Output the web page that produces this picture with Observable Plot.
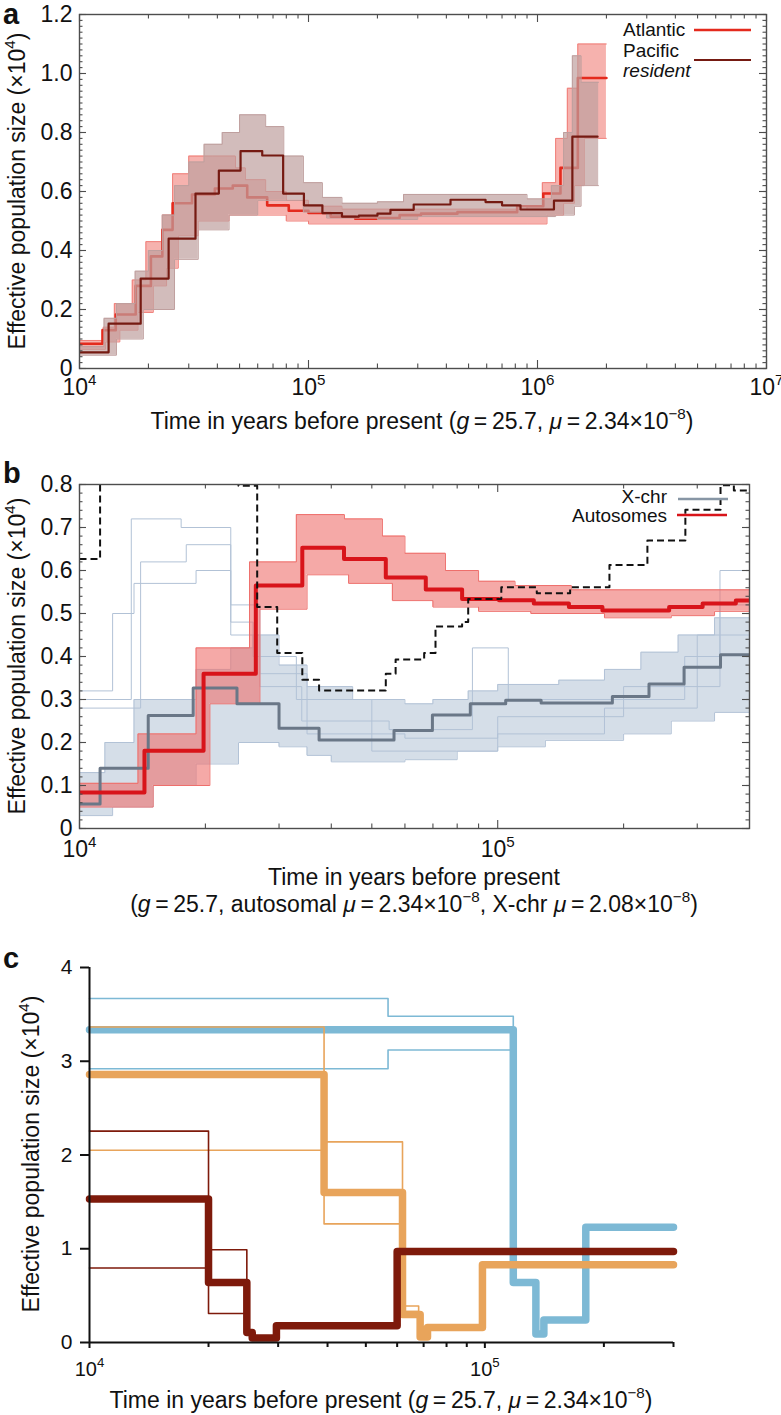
<!DOCTYPE html>
<html><head><meta charset="utf-8">
<script src="https://cdn.jsdelivr.net/npm/d3@7"></script>
<script src="https://cdn.jsdelivr.net/npm/@observablehq/plot@0.6"></script>
<style>
html,body{margin:0;padding:0;background:#fff;overflow:hidden;}
#wrap{width:781px;height:1415px;}
</style></head>
<body><div id="wrap"></div>
<script>
const FONT = '"Liberation Sans", Arial, Helvetica, sans-serif';

// ---------- Panel a: Atlantic vs Pacific resident (Ne x10^4) ----------
const A_X_TICKS = [1e4, 1e5, 1e6, 1e7];
const A_Y_TICKS = [0, 0.2, 0.4, 0.6, 0.8, 1.0, 1.2];

const A_PAC_T = [1.0e4, 1.34e4, 1.85e4, 2.45e4, 3.21e4, 4.06e4, 5.05e4, 6.28e4, 7.75e4, 9.55e4, 1.15e5, 1.40e5, 1.66e5, 2.0e5, 2.28e5, 2.88e5, 4.17e5, 5.93e5, 7.0e5, 8.43e5, 1.18e6, 1.42e6, 1.83e6];
const A_PAC_V = [0.055, 0.152, 0.305, 0.44, 0.593, 0.671, 0.737, 0.722, 0.593, 0.553, 0.527, 0.515, 0.518, 0.525, 0.538, 0.556, 0.572, 0.564, 0.553, 0.539, 0.569, 0.786, 0.786];
const A_ATL_T = [1.0e4, 1.26e4, 1.44e4, 1.76e4, 2.05e4, 2.3e4, 2.55e4, 3.1e4, 3.9e4, 4.67e4, 5.4e4, 6.6e4, 8.2e4, 1.0e5, 1.25e5, 1.6e5, 2.05e5, 2.5e5, 3.1e5, 4.47e5, 8.15e5, 1.06e6, 1.26e6, 1.5e6, 2.0e6];
const A_ATL_V = [0.084, 0.13, 0.183, 0.28, 0.38, 0.47, 0.56, 0.59, 0.61, 0.62, 0.58, 0.553, 0.535, 0.527, 0.515, 0.508, 0.51, 0.52, 0.525, 0.53, 0.55, 0.593, 0.68, 0.985, 0.985];

// bootstrap envelopes
const A_PAC_HI_T = [1.0e4, 1.28e4, 1.45e4, 1.75e4, 2.0e4, 2.3e4, 2.6e4, 3.0e4, 3.5e4, 4.2e4, 5.0e4, 6.5e4, 7.8e4, 9.5e4, 1.15e5, 1.4e5, 2.0e5, 2.6e5, 9.0e5, 1.15e6, 1.3e6, 1.42e6, 1.55e6, 1.85e6];
const A_PAC_HI_V = [0.075, 0.17, 0.22, 0.33, 0.40, 0.52, 0.62, 0.70, 0.76, 0.80, 0.86, 0.82, 0.72, 0.63, 0.58, 0.56, 0.565, 0.59, 0.575, 0.62, 0.80, 1.06, 0.97, 0.97];
const A_PAC_LO_T = [1.0e4, 1.45e4, 1.9e4, 2.6e4, 3.3e4, 4.5e4, 6.0e4, 9.5e4, 1.2e5, 2.0e5, 3.0e5, 1.2e6, 1.45e6, 1.55e6, 1.85e6];
const A_PAC_LO_V = [0.045, 0.10, 0.20, 0.37, 0.47, 0.52, 0.57, 0.53, 0.51, 0.505, 0.515, 0.52, 0.55, 0.62, 0.62];
const A_ATL_HI_T = [1.0e4, 1.27e4, 1.42e4, 1.7e4, 1.95e4, 2.3e4, 2.55e4, 3.0e4, 3.8e4, 4.8e4, 5.3e4, 6.5e4, 8.0e4, 1.0e5, 1.4e5, 9.0e5, 1.05e6, 1.2e6, 1.35e6, 1.5e6, 2.0e6];
const A_ATL_HI_V = [0.095, 0.14, 0.22, 0.30, 0.43, 0.52, 0.66, 0.72, 0.72, 0.68, 0.64, 0.60, 0.57, 0.55, 0.54, 0.55, 0.63, 0.78, 0.95, 1.10, 1.10];
const A_ATL_LO_T = [1.0e4, 1.3e4, 1.5e4, 1.8e4, 2.1e4, 2.4e4, 2.7e4, 3.3e4, 4.5e4, 6.0e4, 8.0e4, 1.0e5, 9.0e5, 1.1e6, 1.3e6, 1.45e6, 1.6e6, 2.0e6];
const A_ATL_LO_V = [0.065, 0.09, 0.13, 0.19, 0.28, 0.34, 0.45, 0.50, 0.52, 0.52, 0.50, 0.49, 0.49, 0.52, 0.56, 0.62, 0.78, 0.78];

// ---------- Panel b: X-chr vs autosomes ----------
const B_X_TICKS = [1e4, 1e5];
const B_Y_TICKS = [0, 0.1, 0.2, 0.3, 0.4, 0.5, 0.6, 0.7, 0.8];

const B_AUTO_T = [1.0e4, 1.43e4, 1.98e4, 2.64e4, 3.41e4, 4.29e4, 5.4e4, 6.73e4, 8.22e4, 1.007e5, 1.22e5, 1.48e5, 1.78e5, 2.57e5, 3.09e5, 3.71e5, 4.0e5];
const B_AUTO_V = [0.084, 0.181, 0.36, 0.565, 0.653, 0.627, 0.584, 0.556, 0.534, 0.531, 0.523, 0.515, 0.507, 0.515, 0.523, 0.53, 0.53];
const B_XCHR_T = [1.0e4, 1.12e4, 1.46e4, 1.87e4, 2.38e4, 3.0e4, 3.74e4, 5.65e4, 6.98e4, 8.6e4, 1.045e5, 1.27e5, 1.88e5, 2.3e5, 2.79e5, 3.41e5, 4.0e5];
const B_XCHR_V = [0.057, 0.14, 0.263, 0.327, 0.29, 0.233, 0.206, 0.228, 0.264, 0.29, 0.298, 0.292, 0.307, 0.336, 0.375, 0.404, 0.404];
const B_DASH_T = [1.0e4, 1.12e4, 2.4e4, 2.66e4, 2.97e4, 3.41e4, 3.74e4, 5.4e4, 5.7e4, 6.67e4, 7.1e4, 8.22e4, 8.5e4, 1.02e5, 1.24e5, 1.49e5, 1.85e5, 2.28e5, 2.81e5, 3.41e5, 3.67e5, 4.0e5];
const B_DASH_V = [0.627, 1.2, 0.797, 0.515, 0.408, 0.346, 0.321, 0.36, 0.393, 0.408, 0.47, 0.48, 0.534, 0.561, 0.547, 0.561, 0.613, 0.67, 0.741, 0.798, 0.786, 0.786];

const B_AUTO_HI_T = [1.0e4, 1.38e4, 1.9e4, 2.55e4, 3.3e4, 4.3e4, 5.3e4, 6.0e4, 7.5e4, 9.0e4, 1.1e5, 1.5e5, 4.0e5];
const B_AUTO_HI_V = [0.105, 0.22, 0.42, 0.62, 0.73, 0.72, 0.68, 0.64, 0.60, 0.575, 0.565, 0.555, 0.555];
const B_AUTO_LO_T = [1.0e4, 1.5e4, 2.05e4, 2.7e4, 3.5e4, 4.4e4, 5.6e4, 7.0e4, 9.0e4, 1.2e5, 1.8e5, 2.6e5, 3.3e5, 4.0e5];
const B_AUTO_LO_V = [0.05, 0.10, 0.29, 0.51, 0.59, 0.57, 0.53, 0.515, 0.505, 0.50, 0.49, 0.495, 0.505, 0.505];
const B_XCHR_HI_T = [1.0e4, 1.15e4, 1.35e4, 1.9e4, 2.3e4, 2.6e4, 3.0e4, 3.5e4, 4.5e4, 6.0e4, 7.0e4, 8.5e4, 1.0e5, 1.4e5, 1.8e5, 2.2e5, 2.7e5, 3.3e5, 4.0e5];
const B_XCHR_HI_V = [0.13, 0.20, 0.30, 0.37, 0.42, 0.45, 0.38, 0.33, 0.30, 0.29, 0.30, 0.32, 0.335, 0.345, 0.37, 0.41, 0.45, 0.49, 0.49];
const B_XCHR_LO_T = [1.0e4, 1.2e4, 1.5e4, 1.9e4, 2.4e4, 3.0e4, 3.5e4, 4.0e4, 6.0e4, 8.0e4, 1.0e5, 1.3e5, 2.0e5, 2.6e5, 3.3e5, 4.0e5];
const B_XCHR_LO_V = [0.03, 0.05, 0.10, 0.15, 0.20, 0.19, 0.17, 0.155, 0.16, 0.18, 0.19, 0.205, 0.22, 0.25, 0.27, 0.27];
// a few outlying X-chr bootstrap replicates
const B_XO1_T = [1.0e4, 1.33e4, 1.75e4, 2.3e4, 2.7e4, 3.4e4, 5.5e4, 8.7e4, 1.06e5, 2.0e5, 3.4e5, 4.0e5];
const B_XO1_V = [0.30, 0.72, 0.70, 0.45, 0.33, 0.25, 0.23, 0.42, 0.30, 0.33, 0.60, 0.60];
const B_XO2_T = [1.0e4, 1.4e4, 1.8e4, 2.3e4, 2.7e4, 3.5e4, 6.0e4, 1.0e5, 2.0e5, 2.8e5, 3.4e5, 4.0e5];
const B_XO2_V = [0.28, 0.62, 0.66, 0.52, 0.36, 0.22, 0.21, 0.26, 0.30, 0.40, 0.52, 0.52];
const B_XO3_T = [1.0e4, 1.2e4, 1.35e4, 1.9e4, 2.3e4, 2.6e4, 3.3e4, 5.0e4, 1.0e5, 1.8e5, 3.0e5, 4.0e5];
const B_XO3_V = [0.32, 0.50, 0.57, 0.60, 0.48, 0.40, 0.30, 0.18, 0.22, 0.28, 0.45, 0.45];

// ---------- Panel c: three populations ----------
const C_X_TICKS = [1e4, 1e5];
const C_Y_TICKS = [0, 1, 2, 3, 4];
const C_BLUE_T = [1e4, 1.18e5, 1.346e5, 1.41e5, 1.80e5, 3.0e5];
const C_BLUE_V = [3.337, 0.64, 0.09, 0.24, 1.23, 1.23];
const C_BLUE_HI_T = [1e4, 5.69e4, 1.18e5];
const C_BLUE_HI_V = [3.669, 3.48, 3.337];
const C_BLUE_LO_T = [1e4, 5.69e4, 1.18e5];
const C_BLUE_LO_V = [2.92, 3.12, 3.12];
const C_ORANGE_T = [1e4, 3.92e4, 6.19e4, 6.86e4, 7.16e4, 9.86e4, 3.0e5];
const C_ORANGE_V = [2.86, 1.6, 0.30, 0.06, 0.16, 0.83, 0.83];
const C_ORANGE_HI_T = [1e4, 3.92e4, 6.19e4, 6.8e4];
const C_ORANGE_HI_V = [3.365, 2.14, 0.39, 0.30];
const C_ORANGE_LO_T = [1e4, 3.92e4, 6.19e4, 6.8e4];
const C_ORANGE_LO_V = [2.05, 1.265, 0.33, 0.30];
const C_DARK_T = [1e4, 2.0e4, 2.5e4, 2.58e4, 2.97e4, 6.0e4, 3.0e5];
const C_DARK_V = [1.532, 0.64, 0.107, 0.047, 0.178, 0.97, 0.97];
const C_DARK_HI_T = [1e4, 2.0e4, 2.5e4];
const C_DARK_HI_V = [2.255, 0.99, 0.64];
const C_DARK_LO_T = [1e4, 2.0e4, 2.5e4];
const C_DARK_LO_V = [0.795, 0.31, 0.64];

// ---------- helpers ----------
const rows = (t, v) => t.map((x, i) => ({t: x, v: v[i]}));
function stepAt(T, V, x) { let k = 0; for (let i = 0; i < T.length; i++) if (T[i] <= x) k = i; return V[k]; }
function bandRows(th, vh, tl, vl) {
  const end = Math.min(th[th.length - 1], tl[tl.length - 1]);
  const ts = Array.from(new Set([...th, ...tl])).filter(x => x <= end).sort((a, b) => a - b);
  return ts.map(x => ({t: x, lo: stepAt(tl, vl, x), hi: stepAt(th, vh, x)}));
}
const step = (t, v, o) => Plot.line(rows(t, v), {x: "t", y: "v", curve: "step-after", clip: true, ...o});
function band(th, vh, tl, vl, color, op) {
  return [
    Plot.areaY(bandRows(th, vh, tl, vl), {x: "t", y1: "lo", y2: "hi", curve: "step-after", fill: color, fillOpacity: op, clip: true}),
    step(th, vh, {stroke: color, strokeWidth: 1}),
    step(tl, vl, {stroke: color, strokeWidth: 1})
  ];
}
const minorLog = (lo, hi) => { const r = []; for (let d = lo; d < hi; d *= 10) for (let m = 2; m <= 9; m++) if (d * m < hi) r.push(d * m); return r; };
const expFmt = d => String(Math.round(Math.log10(d)));
const decFmt = d => d === 0 ? "0" : d.toFixed(1);

// inward ticks on all four sides of a framed panel (W,H = frame size in px)
function frameTicks(xMaj, xMin, yMaj, yMin, color, W, H) {
  const o = {stroke: color, strokeWidth: 1.1};
  return [
    Plot.ruleX(xMaj, {...o, insetTop: H - 8}),
    Plot.ruleX(xMin, {...o, insetTop: H - 4.5}),
    Plot.ruleX(xMaj, {...o, insetBottom: H - 8}),
    Plot.ruleX(xMin, {...o, insetBottom: H - 4.5}),
    Plot.ruleY(yMaj, {...o, insetRight: W - 7}),
    Plot.ruleY(yMin, {...o, insetRight: W - 3.5}),
    Plot.ruleY(yMaj, {...o, insetLeft: W - 7}),
    Plot.ruleY(yMin, {...o, insetLeft: W - 3.5})
  ];
}
function supTicks(svg, size) {
  d3.select(svg).selectAll('g[aria-label="x-axis tick label"] text').each(function () {
    const el = d3.select(this); const e = el.text();
    if (!e) return;
    el.text(null);
    el.append("tspan").text("10");
    el.append("tspan").attr("font-size", size * 0.66).attr("dy", -size * 0.42).text(e);
  });
}
function addText(svg, x, y, parts, o = {}) {
  const size = o.size || 23;
  const t = d3.select(svg).append("text")
    .attr("x", x).attr("y", y)
    .attr("text-anchor", o.anchor || "middle")
    .attr("font-family", FONT).attr("font-size", size)
    .attr("fill", "#111");
  if (o.weight) t.attr("font-weight", o.weight);
  if (o.italic) t.attr("font-style", "italic");
  if (o.rotate) t.attr("transform", `rotate(-90,${x},${y})`);
  let raised = false;
  for (const p of parts) {
    const q = typeof p === "string" ? {s: p} : p;
    const sp = t.append("tspan").text(q.s);
    if (q.i) sp.attr("font-style", "italic");
    if (q.sup) { sp.attr("font-size", size * 0.66).attr("dy", -size * 0.42); raised = true; }
    else if (raised) { sp.attr("dy", size * 0.42); raised = false; }
  }
}
function addLine(svg, x1, x2, y, color, w) {
  d3.select(svg).append("line").attr("x1", x1).attr("x2", x2).attr("y1", y).attr("y2", y)
    .attr("stroke", color).attr("stroke-width", w);
}
const TS = "\u2009";
const yTitle = ["Effective population size (×10", {s: "4", sup: true}, ")"];
const STYLE = {fontFamily: FONT, fontSize: "23px", color: "#111", background: "#fff", overflow: "visible"};

const wrap = document.getElementById("wrap");

// ---------- Panel a ----------
const pa = Plot.plot({
  width: 781, height: 460, marginLeft: 79, marginRight: 15, marginTop: 14, marginBottom: 92,
  x: {type: "log", domain: [1e4, 1e7], label: null},
  y: {domain: [0, 1.2], label: null},
  style: STYLE,
  marks: [
    ...band(A_ATL_HI_T, A_ATL_HI_V, A_ATL_LO_T, A_ATL_LO_V, "#f07e78", 0.6),
    step(A_ATL_T, A_ATL_V, {stroke: "#e42a1d", strokeWidth: 2.6}),
    ...band(A_PAC_HI_T, A_PAC_HI_V, A_PAC_LO_T, A_PAC_LO_V, "#bf9f9e", 0.7),
    step(A_PAC_T, A_PAC_V, {stroke: "#751a12", strokeWidth: 2.2}),
    Plot.frame({stroke: "#4d4d4d", strokeWidth: 1.4}),
    ...frameTicks(A_X_TICKS, minorLog(1e4, 1e7), A_Y_TICKS, d3.range(0, 1.2001, 0.02), "#4d4d4d", 687, 354),
    Plot.axisX(A_X_TICKS, {anchor: "bottom", tickSize: 0, tickPadding: 10, tickFormat: expFmt, fontSize: 23, label: null}),
    Plot.axisY(A_Y_TICKS, {anchor: "left", tickSize: 0, tickPadding: 7, tickFormat: decFmt, fontSize: 23, label: null})
  ]
});
supTicks(pa, 23);
addText(pa, 3, 24, ["a"], {anchor: "start", size: 29, weight: "bold"});
addText(pa, 422, 429, ["Time in years before present (", {s: "g", i: true}, TS + "=" + TS + "25.7, ", {s: "μ", i: true}, TS + "=" + TS + "2.34×10", {s: "−8", sup: true}, ")"]);
addText(pa, 25, 191, yTitle, {rotate: true});
addText(pa, 623, 36, ["Atlantic"], {anchor: "start", size: 19});
addText(pa, 623, 57, ["Pacific"], {anchor: "start", size: 19});
addText(pa, 623, 77, ["resident"], {anchor: "start", size: 19, italic: true});
addLine(pa, 694, 751, 30, "#e42a1d", 2.6);
addLine(pa, 694, 751, 60, "#751a12", 2.2);
wrap.appendChild(pa);

// ---------- Panel b ----------
const pb = Plot.plot({
  width: 781, height: 475, marginLeft: 79, marginRight: 32, marginTop: 24, marginBottom: 107,
  x: {type: "log", domain: [1e4, 4e5], label: null},
  y: {domain: [0, 0.8], label: null},
  style: STYLE,
  marks: [
    ...band(B_XCHR_HI_T, B_XCHR_HI_V, B_XCHR_LO_T, B_XCHR_LO_V, "#b2c2d6", 0.55),
    step(B_XO1_T, B_XO1_V, {stroke: "#b2c2d6", strokeWidth: 1}),
    step(B_XO2_T, B_XO2_V, {stroke: "#b2c2d6", strokeWidth: 1}),
    step(B_XO3_T, B_XO3_V, {stroke: "#b2c2d6", strokeWidth: 1}),
    ...band(B_AUTO_HI_T, B_AUTO_HI_V, B_AUTO_LO_T, B_AUTO_LO_V, "#ee6f6c", 0.6),
    step(B_XCHR_T, B_XCHR_V, {stroke: "#6a7787", strokeWidth: 3}),
    step(B_AUTO_T, B_AUTO_V, {stroke: "#d8141a", strokeWidth: 4}),
    step(B_DASH_T, B_DASH_V, {stroke: "#111", strokeWidth: 2, strokeDasharray: "7,4", strokeLinecap: "butt"}),
    Plot.frame({stroke: "#4d4d4d", strokeWidth: 1.4}),
    ...frameTicks(B_X_TICKS, minorLog(1e4, 4e5), B_Y_TICKS, d3.range(0, 0.8001, 0.02), "#4d4d4d", 670, 344),
    Plot.axisX(B_X_TICKS, {anchor: "bottom", tickSize: 0, tickPadding: 12, tickFormat: expFmt, fontSize: 23, label: null}),
    Plot.axisY(B_Y_TICKS, {anchor: "left", tickSize: 0, tickPadding: 7, tickFormat: decFmt, fontSize: 23, label: null})
  ]
});
supTicks(pb, 23);
addText(pb, 3, 23, ["b"], {anchor: "start", size: 29, weight: "bold"});
addText(pb, 414, 425, ["Time in years before present"]);
addText(pb, 414, 452, ["(", {s: "g", i: true}, TS + "=" + TS + "25.7, autosomal ", {s: "μ", i: true}, TS + "=" + TS + "2.34×10", {s: "−8", sup: true}, ", X-chr ", {s: "μ", i: true}, TS + "=" + TS + "2.08×10", {s: "−8", sup: true}, ")"]);
addText(pb, 25, 196, yTitle, {rotate: true});
addText(pb, 667, 43, ["X-chr"], {anchor: "end", size: 19});
addText(pb, 667, 62, ["Autosomes"], {anchor: "end", size: 19});
addLine(pb, 678, 728, 39, "#8796a5", 2.5);
addLine(pb, 677, 727, 55, "#d8141a", 2.5);
wrap.appendChild(pb);

// ---------- Panel c ----------
const thick = 7.5, thin = 1.6;
const BLUE = "#7db9d5", ORANGE = "#e8a45b", DARK = "#7e1a0b";
const pc = Plot.plot({
  width: 781, height: 480, marginLeft: 89, marginRight: 108, marginTop: 32, marginBottom: 73,
  x: {type: "log", domain: [1e4, 3e5], label: null},
  y: {domain: [0, 4], label: null},
  style: STYLE,
  marks: [
    step(C_BLUE_HI_T, C_BLUE_HI_V, {stroke: BLUE, strokeWidth: thin, clip: false}),
    step(C_BLUE_LO_T, C_BLUE_LO_V, {stroke: BLUE, strokeWidth: thin, clip: false}),
    step(C_BLUE_T, C_BLUE_V, {stroke: BLUE, strokeWidth: thick, clip: false}),
    step(C_ORANGE_HI_T, C_ORANGE_HI_V, {stroke: ORANGE, strokeWidth: thin, clip: false}),
    step(C_ORANGE_LO_T, C_ORANGE_LO_V, {stroke: ORANGE, strokeWidth: thin, clip: false}),
    step(C_ORANGE_T, C_ORANGE_V, {stroke: ORANGE, strokeWidth: thick, clip: false}),
    step(C_DARK_HI_T, C_DARK_HI_V, {stroke: DARK, strokeWidth: thin, clip: false}),
    step(C_DARK_LO_T, C_DARK_LO_V, {stroke: DARK, strokeWidth: thin, clip: false}),
    step(C_DARK_T, C_DARK_V, {stroke: DARK, strokeWidth: thick, clip: false}),
    Plot.ruleY([0], {stroke: "#111", strokeWidth: 2}),
    Plot.ruleX([1e4], {stroke: "#111", strokeWidth: 2}),
    Plot.axisX(minorLog(1e4, 3.01e5), {anchor: "bottom", tickSize: 5, tickFormat: () => "", label: null, strokeWidth: 2}),
    Plot.axisX(C_X_TICKS, {anchor: "bottom", tickSize: 6, tickPadding: 13, tickFormat: expFmt, fontSize: 20, label: null, strokeWidth: 2}),
    Plot.axisY(C_Y_TICKS, {anchor: "left", tickSize: 9, tickPadding: 8, tickFormat: d => String(d), fontSize: 21, label: null, strokeWidth: 2})
  ]
});
supTicks(pc, 20);
addText(pc, 3, 33, ["c"], {anchor: "start", size: 29, weight: "bold"});
addText(pc, 381, 473, ["Time in years before present (", {s: "g", i: true}, TS + "=" + TS + "25.7, ", {s: "μ", i: true}, TS + "=" + TS + "2.34×10", {s: "−8", sup: true}, ")"]);
addText(pc, 39, 219, yTitle, {rotate: true});
wrap.appendChild(pc);
</script>
</body></html>
